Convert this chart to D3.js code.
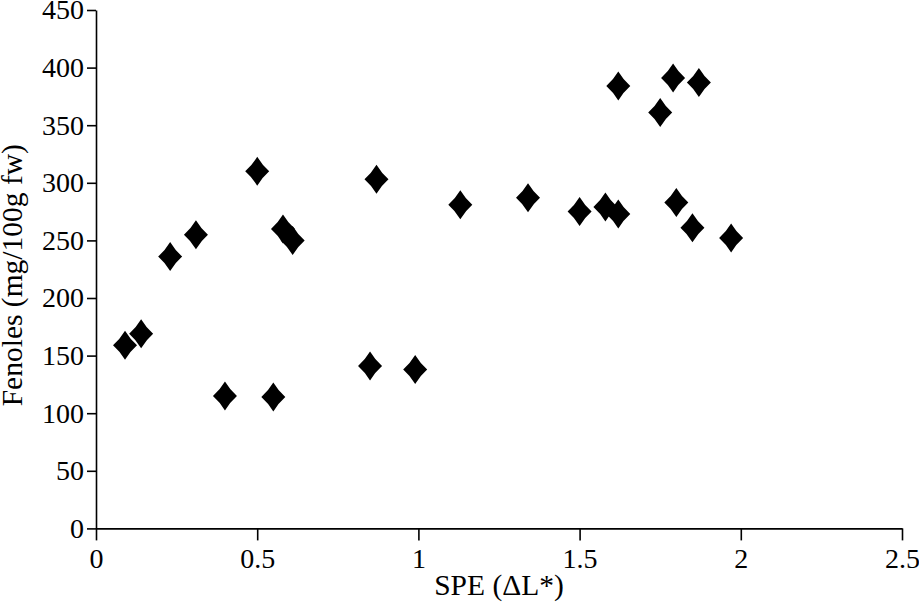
<!DOCTYPE html>
<html>
<head>
<meta charset="utf-8">
<script src="https://cdn.jsdelivr.net/npm/d3@7"></script>
<style>
  body { margin: 0; background: #fff; }
  svg text { font-family: "Liberation Serif", "Times New Roman", serif; fill: #000; }
</style>
</head>
<body>
<svg id="chart" width="919" height="604"></svg>
<script>
// data
const speValues = [0.09, 0.14, 0.23, 0.31, 0.40, 0.50, 0.55, 0.58, 0.61, 0.85, 0.87, 0.99,
                   1.13, 1.34, 1.50, 1.58, 1.62, 1.62, 1.75, 1.79, 1.80, 1.85, 1.87, 1.97];
const fenolValues = [159, 169, 236, 255, 115, 310, 114, 260, 250, 141, 303, 138,
                     281, 287, 275, 279, 273, 384, 361, 391, 283, 261, 387, 252];
const xTicks = [0, 0.5, 1, 1.5, 2, 2.5];
const yTicks = [0, 50, 100, 150, 200, 250, 300, 350, 400, 450];

const svg = d3.select("#chart");

const x = d3.scaleLinear().domain([0, 2.5]).range([96, 902]);
const y = d3.scaleLinear().domain([0, 450]).range([528.4, 10]);

const fontSize = 28;
const titleSize = 29.5;

// x axis
const xAxis = svg.append("g")
    .attr("transform", `translate(0,${y(0)})`)
    .call(d3.axisBottom(x).tickValues(xTicks).tickFormat(d3.format("")).tickSize(12).tickSizeOuter(0).tickPadding(8));

// y axis
const yAxis = svg.append("g")
    .attr("transform", `translate(${x(0)},0)`)
    .call(d3.axisLeft(y).tickValues(yTicks).tickSize(9).tickSizeOuter(0).tickPadding(3));

[xAxis, yAxis].forEach(g => {
    g.select(".domain").attr("stroke", "#000").attr("stroke-width", 1.6);
    g.selectAll(".tick line").attr("stroke", "#000").attr("stroke-width", 1.6);
    g.selectAll(".tick text")
        .style("font-family", "'Liberation Serif', 'Times New Roman', serif")
        .style("font-size", fontSize + "px")
        .attr("fill", "#000");
});

// axis titles
svg.append("text")
    .attr("x", (x(0) + x(2.5)) / 2)
    .attr("y", 595)
    .attr("text-anchor", "middle")
    .style("font-size", titleSize + "px")
    .text("SPE (ΔL*)");

svg.append("text")
    .attr("transform", `translate(22,${(y(0) + y(450)) / 2 + 6}) rotate(-90)`)
    .attr("text-anchor", "middle")
    .style("font-size", titleSize + "px")
    .text("Fenoles (mg/100g fw)");

// diamond marker with slightly concave sides
function diamondPath(w, h) {
    const a = w / 2, b = h / 2, k = 0.42;
    return `M0,${-b} Q${a * k},${-b * k} ${a},0 Q${a * k},${b * k} 0,${b} ` +
           `Q${-a * k},${b * k} ${-a},0 Q${-a * k},${-b * k} 0,${-b} Z`;
}

const points = speValues.map((v, i) => ({ spe: v, fenol: fenolValues[i] }));

svg.append("g")
    .selectAll("path")
    .data(points)
    .join("path")
    .attr("transform", d => `translate(${x(d.spe)},${y(d.fenol)})`)
    .attr("d", diamondPath(24, 29))
    .attr("fill", "#000");
</script>
</body>
</html>
